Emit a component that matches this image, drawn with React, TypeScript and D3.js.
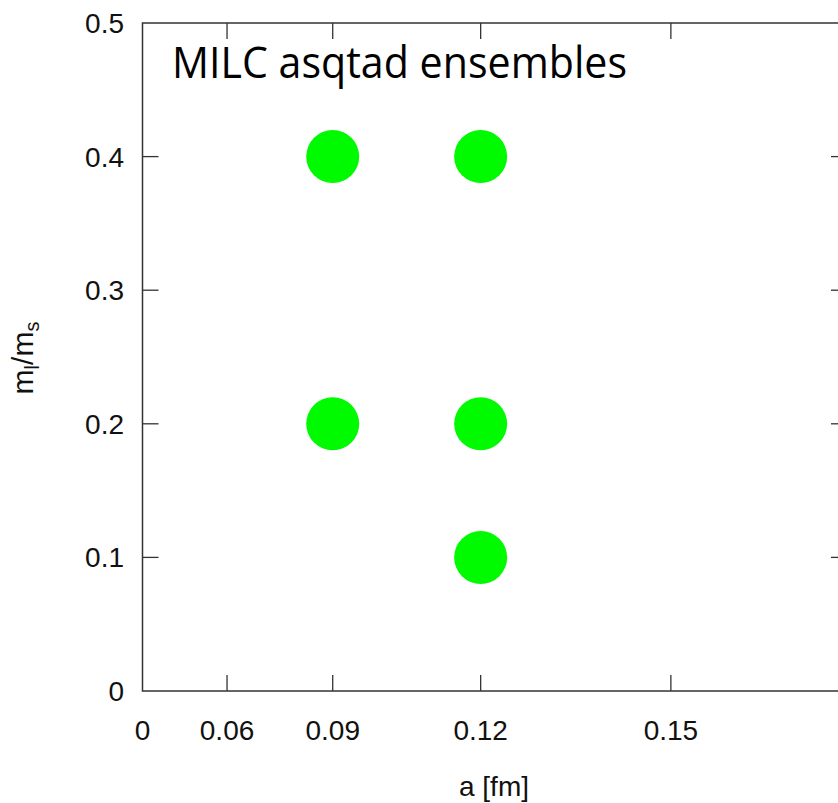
import * as d3 from 'd3';

// ensembles: lattice spacing a [fm] and light/strange mass ratio
const spacing = [0.09, 0.09, 0.12, 0.12, 0.12];
const massRatio = [0.4, 0.2, 0.4, 0.2, 0.1];
const xTicks = [0, 0.06, 0.09, 0.12, 0.15];
const yTicks = [0, 0.1, 0.2, 0.3, 0.4, 0.5];
const title = 'MILC asqtad ensembles';

const W = 838;
const H = 803;
const left = 142.5;
const right = 847;
const top = 23;
const bottom = 691;
const tick = 16;

export default function App() {
  // x axis is linear in a^2
  const x = d3.scalePow().exponent(2).domain([0, Math.sqrt(0.03)]).range([left, right]);
  const y = d3.scaleLinear().domain([0, 0.5]).range([bottom, top]);
  const axisColor = '#333';
  const font = '"Liberation Sans", Arial, sans-serif';

  return (
    <div style={{ position: 'absolute', left: 0, top: 0, width: W, height: H, overflow: 'hidden', background: '#fff' }}>
      <svg width={W} height={H} style={{ display: 'block' }}>
        <rect x={left} y={top} width={right - left} height={bottom - top} fill="none" stroke={axisColor} strokeWidth={1.5} />

        {xTicks.map((t, i) => (
          <g key={'x' + i}>
            {i > 0 && (
              <>
                <line x1={x(t)} x2={x(t)} y1={bottom} y2={bottom - tick} stroke={axisColor} strokeWidth={1.3} />
                <line x1={x(t)} x2={x(t)} y1={top} y2={top + tick} stroke={axisColor} strokeWidth={1.3} />
              </>
            )}
            <text x={x(t)} y={740} textAnchor="middle" fontFamily={font} fontSize={28} fill="#111">
              {String(t)}
            </text>
          </g>
        ))}

        {yTicks.map((t, i) => (
          <g key={'y' + i}>
            {i > 0 && i < yTicks.length - 1 && (
              <>
                <line x1={left} x2={left + tick} y1={y(t)} y2={y(t)} stroke={axisColor} strokeWidth={1.3} />
                <line x1={right} x2={right - tick} y1={y(t)} y2={y(t)} stroke={axisColor} strokeWidth={1.3} />
              </>
            )}
            <text x={124} y={y(t) + 10} textAnchor="end" fontFamily={font} fontSize={28} fill="#111">
              {String(t)}
            </text>
          </g>
        ))}

        {spacing.map((a, i) => (
          <circle key={'p' + i} cx={x(a)} cy={y(massRatio[i])} r={26.5} fill="#00fa00" />
        ))}

        <text x={494} y={796} textAnchor="middle" fontFamily={font} fontSize={28} fill="#111">
          a [fm]
        </text>

        <text transform="translate(33,358) rotate(-90)" textAnchor="middle" fontFamily={font} fontSize={30} fill="#111">
          m<tspan fontSize={20} dy={6}>l</tspan>
          <tspan dy={-6}>/m</tspan>
          <tspan fontSize={20} dy={6}>s</tspan>
        </text>

        <text x={172} y={78} fontFamily='"Open Sans", "Noto Sans", sans-serif' fontSize={44}
          textLength={455} lengthAdjust="spacingAndGlyphs" fill="#000">
          {title}
        </text>
      </svg>
    </div>
  );
}
